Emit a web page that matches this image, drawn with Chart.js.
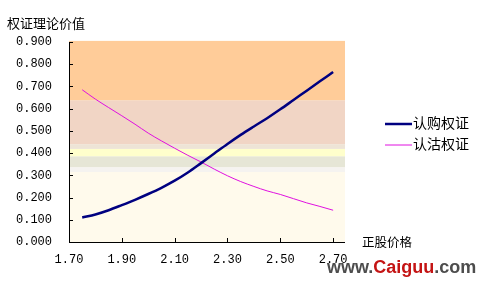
<!DOCTYPE html>
<html>
<head>
<meta charset="utf-8">
<script src="https://cdn.jsdelivr.net/npm/chart.js@4/dist/chart.umd.min.js"></script>
<style>
html,body{margin:0;padding:0;background:#fff;}
#wrap{width:487px;height:285px;position:relative;}
</style>
</head>
<body>
<div id="wrap"><canvas id="c" width="487" height="285"></canvas></div>
<script>
const stockPrices = [1.75,1.80,1.85,1.90,1.95,2.00,2.05,2.10,2.15,2.20,2.25,2.30,2.35,2.40,2.45,2.50,2.55,2.60,2.65,2.70];
const callValues  = [0.110,0.124,0.143,0.166,0.190,0.216,0.244,0.276,0.313,0.355,0.398,0.441,0.482,0.520,0.557,0.597,0.639,0.681,0.723,0.765];
const putValues   = [0.685,0.643,0.605,0.568,0.530,0.490,0.455,0.422,0.390,0.360,0.328,0.298,0.272,0.250,0.230,0.214,0.195,0.176,0.160,0.143];
const xTickValues = [1.70,1.90,2.10,2.30,2.50,2.70];
const yTickValues = [0,0.1,0.2,0.3,0.4,0.5,0.6,0.7,0.8,0.9];
const seriesNames = ['认购权证','认沽权证'];
const titleText = '权证理论价值';
const xAxisTitle = '正股价格';
// background bands: [from, to, colour]
const bandFrom = [0.000,0.315,0.337,0.386,0.419,0.440,0.638];
const bandTo   = [0.315,0.337,0.386,0.419,0.440,0.638,0.905];
const bandColors = ['#FFFAEC','#F5F3F0','#E6E6D6','#FFFFCC','#EEE4D6','#F1D5C5','#FFCC99'];

const monoFont = {family:'"Liberation Mono", "DejaVu Sans Mono", monospace', size:12};
const cjk = '"Noto Sans CJK SC", sans-serif';

const decor = {
  id:'decor',
  beforeDatasetsDraw(chart){
    const {ctx, chartArea:a, scales:{x,y}} = chart;
    ctx.save();
    for(let i=0;i<bandFrom.length;i++){
      const y1 = y.getPixelForValue(bandTo[i]);
      const y0 = y.getPixelForValue(bandFrom[i]);
      ctx.fillStyle = bandColors[i];
      ctx.fillRect(a.left, Math.min(y0,y1), a.right-a.left, Math.abs(y0-y1));
    }
    ctx.restore();
  },
  afterDraw(chart){
    const {ctx, chartArea:a, scales:{x,y}} = chart;
    ctx.save();
    ctx.strokeStyle='#000'; ctx.lineWidth=1;
    ctx.beginPath();
    ctx.moveTo(a.left+0.5, a.top); ctx.lineTo(a.left+0.5, a.bottom+0.5);
    ctx.lineTo(a.right, a.bottom+0.5);
    ctx.stroke();
    ctx.beginPath();
    yTickValues.forEach(v=>{const p=Math.round(y.getPixelForValue(v))+0.5; ctx.moveTo(a.left,p); ctx.lineTo(a.left+4,p);});
    xTickValues.forEach(v=>{const p=Math.round(x.getPixelForValue(v))+0.5; ctx.moveTo(p,a.bottom); ctx.lineTo(p,a.bottom-4);});
    ctx.stroke();
    ctx.fillStyle='#000';
    ctx.textBaseline='middle'; ctx.textAlign='left';
    ctx.font='13px '+cjk;
    ctx.fillText(titleText, 7, 23);
    ctx.font='12.5px '+cjk;
    ctx.fillText(xAxisTitle, 362, a.bottom);
    const ds = chart.data.datasets;
    ds.forEach((d,i)=>{
      const yy = 124 + i*21;
      ctx.strokeStyle=d.borderColor; ctx.lineWidth=d.borderWidth;
      ctx.beginPath(); ctx.moveTo(385, yy); ctx.lineTo(412, yy); ctx.stroke();
      ctx.fillStyle='#000';
      ctx.font='14px '+cjk;
      ctx.fillText(d.label, 413, yy-1);
    });
    ctx.font='bold 18px "Liberation Sans", Arial, sans-serif';
    ctx.textBaseline='alphabetic';
    let wx=327; const wy=273;
    const parts=[['www.','#4d4d4d'],['Caiguu','#C41414'],['.com','#4d4d4d']];
    parts.forEach(([t,c])=>{ctx.fillStyle=c; ctx.fillText(t,wx,wy); wx+=ctx.measureText(t).width;});
    ctx.restore();
  }
};

new Chart(document.getElementById('c'),{
  type:'line',
  data:{
    datasets:[
      {label:seriesNames[0], data:stockPrices.map((p,i)=>({x:p,y:callValues[i]})), borderColor:'#000080', borderWidth:2.5, pointRadius:0, cubicInterpolationMode:'monotone', fill:false},
      {label:seriesNames[1], data:stockPrices.map((p,i)=>({x:p,y:putValues[i]})), borderColor:'#E010E0', borderWidth:1, pointRadius:0, cubicInterpolationMode:'monotone', fill:false}
    ]
  },
  options:{
    responsive:false, animation:false,
    layout:{padding:{left:0,right:142,top:42,bottom:0}},
    plugins:{legend:{display:false}, tooltip:{enabled:false}, title:{display:false}},
    scales:{
      x:{type:'linear', min:1.70, max:2.745,
        afterBuildTicks(s){s.ticks=xTickValues.map(v=>({value:v}));},
        afterFit(s){s.height=43;},
        grid:{display:false, drawTicks:false}, border:{display:false},
        ticks:{color:'#000', font:monoFont, padding:11, maxRotation:0, autoSkip:false, callback:v=>Number(v).toFixed(2)}
      },
      y:{type:'linear', min:0, max:0.9,
        afterBuildTicks(s){s.ticks=yTickValues.map(v=>({value:v}));},
        afterFit(s){s.width=69;},
        grid:{display:false, drawTicks:false}, border:{display:false},
        ticks:{color:'#000', font:monoFont, padding:17, autoSkip:false, callback:v=>Number(v).toFixed(3)}
      }
    }
  },
  plugins:[decor]
});
</script>
</body>
</html>
